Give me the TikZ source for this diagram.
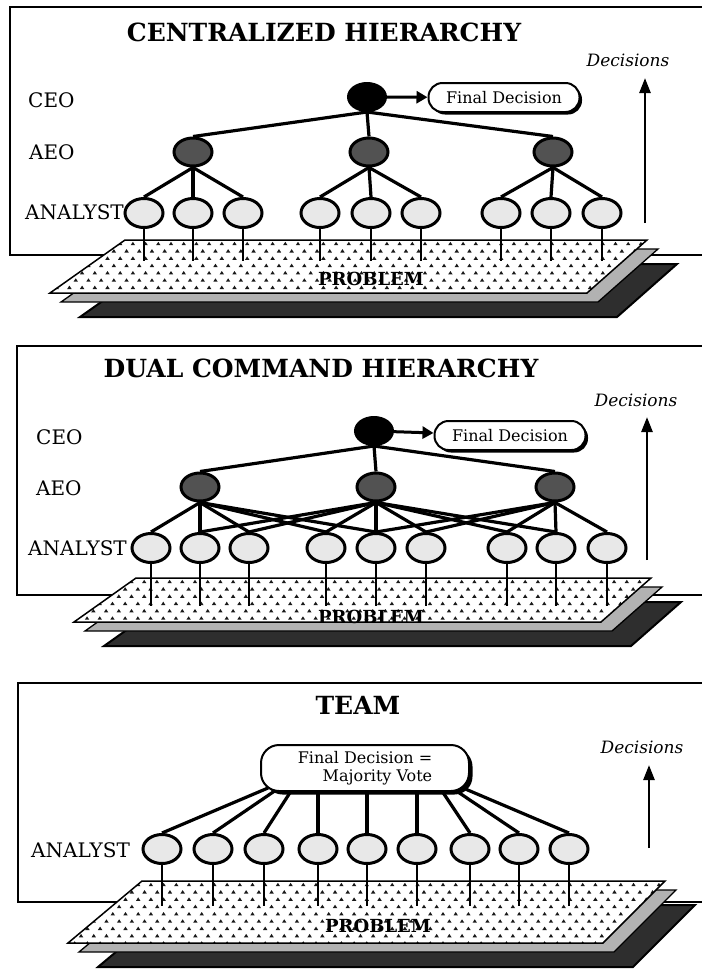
\documentclass[tikz,border=0pt]{standalone}
\usepackage{fontspec}
\setmainfont{DejaVu Serif}
\usetikzlibrary{shapes.geometric,arrows.meta,shadows}
\pgfdeclarelayer{bg}
\pgfsetlayers{bg,main}
\newcommand\probstack[6]{%
  \filldraw[fill=black!82,line width=2pt,shift={(30,24)}] (#1,#2) -- ++(#3,0) -- ++(-#6,#4) -- ++({-(#3)-(#5)+(#6)},0) -- cycle;
  \filldraw[fill=black!30,line width=1.3pt,shift={(11,9)}] (#1,#2) -- ++(#3,0) -- ++(-#6,#4) -- ++({-(#3)-(#5)+(#6)},0) -- cycle;
  \fill[white] (#1,#2) -- ++(#3,0) -- ++(-#6,#4) -- ++({-(#3)-(#5)+(#6)},0) -- cycle;
  \begin{scope}
    \clip (#1,#2) -- ++(#3,0) -- ++(-#6,#4) -- ++({-(#3)-(#5)+(#6)},0) -- cycle;
    \foreach \rr in {0,...,9}{\foreach \cc in {0,...,49}{%
      \fill[black!90] ({#1-#5-6+\cc*12.7+mod(\rr,2)*6.35},{#2+1.8+\rr*7.3}) -- ++(2.2,3.4) -- ++(-4.4,0) -- cycle;}}
  \end{scope}
  \draw[line width=1.5pt] (#1,#2) -- ++(#3,0) -- ++(-#6,#4) -- ++({-(#3)-(#5)+(#6)},0) -- cycle;
}
\begin{document}
\begin{tikzpicture}[x=1pt,y=-1pt,
  frameline/.style={line width=1.4pt},
  ceonode/.style={ellipse,draw,line width=3pt,fill=black,minimum width=37pt,minimum height=27pt,inner sep=0pt},
  aeonode/.style={ellipse,draw,line width=3pt,fill=black!68,minimum width=38pt,minimum height=28pt,inner sep=0pt},
  ananode/.style={ellipse,draw,line width=3pt,fill=black!9,minimum width=38pt,minimum height=29pt,inner sep=0pt},
  treeline/.style={line width=3.2pt},
  stemline/.style={line width=1.1pt},
  lbl/.style={font=\fontsize{20}{22}\selectfont,anchor=west,inner sep=0pt},
  ttl/.style={font=\fontsize{25}{27}\selectfont\bfseries,inner sep=0pt},
  decword/.style={font=\fontsize{17}{19}\selectfont\itshape,inner sep=0pt},
  decarrow/.style={line width=2.5pt,-{Triangle[length=15pt,width=11pt]}},
  finalbox/.style={draw,line width=2pt,fill=white,rounded corners=14pt,minimum width=151pt,minimum height=29pt,font=\fontsize{16}{18}\selectfont,inner sep=0pt,drop shadow={shadow xshift=2.5pt,shadow yshift=-2.5pt,fill=black,opacity=1}},
  probtxt/.style={font=\fontsize{18}{20}\selectfont\bfseries,inner sep=0pt},
]
\useasboundingbox (0,0) rectangle (702,970);

% ================= TOP PANEL =================
\node[ttl] (t1) at (324,32) {CENTRALIZED HIERARCHY};
\node[decword] (dw1) at (628,60) {Decisions};
\node[lbl] (lc1) at (28,100) {CEO};
\node[lbl] (la1) at (29,152) {AEO};
\node[lbl] (ln1) at (25,212) {ANALYST};
\node[ceonode] (c1) at (367,97) {};
\node[finalbox] (f1) at (504,97.5) {Final Decision};
\node[aeonode] (tL) at (193,152) {};
\node[aeonode] (tM) at (369,152) {};
\node[aeonode] (tR) at (553,152) {};
\foreach \i/\x in {1/144,2/193,3/243,4/320,5/371,6/421,7/501,8/551,9/602}
  \node[ananode] (ta\i) at (\x,213) {};
\coordinate (s1) at (0,261);
\coordinate (d1b) at (645,223);
\coordinate (d1t) at (645,78);

% ================= MIDDLE PANEL =================
\node[ttl] (t2) at (321,368) {DUAL COMMAND HIERARCHY};
\node[decword] (dw2) at (636,400) {Decisions};
\node[lbl] (lc2) at (36,437) {CEO};
\node[lbl] (la2) at (36,488) {AEO};
\node[lbl] (ln2) at (28,548) {ANALYST};
\node[ceonode] (c2) at (374,431) {};
\node[finalbox] (f2) at (510,435.5) {Final Decision};
\node[aeonode] (mL) at (200,487) {};
\node[aeonode] (mM) at (376,487) {};
\node[aeonode] (mR) at (555,487) {};
\foreach \i/\x in {1/151,2/200,3/249,4/326,5/376,6/426,7/507,8/556,9/607}
  \node[ananode] (mn\i) at (\x,548) {};
\coordinate (s2) at (0,606);
\coordinate (d2b) at (647,560);
\coordinate (d2t) at (647,417);

% ================= BOTTOM PANEL =================
\node[ttl] (t3) at (358,705) {TEAM};
\node[decword] (dw3) at (642,747) {Decisions};
\node[lbl] (ln3) at (31,850) {ANALYST};
\node[draw,line width=2pt,fill=white,rounded corners=18pt,minimum width=208pt,minimum height=46pt,
  font=\fontsize{16}{18}\selectfont,align=right,inner sep=0pt,
  drop shadow={shadow xshift=3.5pt,shadow yshift=-3.5pt,fill=black,opacity=1}] (f3) at (365,768)
  {Final Decision =\\Majority Vote};
\foreach \i/\x in {1/162,2/213,3/264,4/318,5/367,6/417,7/470,8/519,9/569}
  \node[ananode] (bn\i) at (\x,849) {};
\foreach \i/\x in {1/268,2/279,3/293,4/318,5/367,6/417,7/440,8/452,9/463}
  \coordinate (bt\i) at (\x,788);
\coordinate (s3) at (0,906);
\coordinate (d3b) at (649,848);
\coordinate (d3t) at (649,765);

\begin{pgfonlayer}{bg}
  % frames
  \draw[frameline] (702,7) -- (10,7) -- (10,255) -- (702,255);
  \draw[frameline] (702,346) -- (17,346) -- (17,595) -- (702,595);
  \draw[frameline] (702,683) -- (18,683) -- (18,902) -- (702,902);
  % problem planes
  \probstack{125}{240}{522}{53}{75}{60}
  \probstack{136}{578}{515}{44}{62}{50}
  \probstack{142}{881}{523}{62}{74}{62}
  % stems
  \foreach \i in {1,...,9}{
    \draw[stemline] (ta\i.south) -- (ta\i.south |- s1);
    \draw[stemline] (mn\i.south) -- (mn\i.south |- s2);
    \draw[stemline] (bn\i.south) -- (bn\i.south |- s3);
  }
  % top tree
  \foreach \a in {tL,tM,tR} \draw[treeline] (c1.south) -- (\a.north);
  \foreach \a/\b in {tL/1,tL/2,tL/3,tM/4,tM/5,tM/6,tR/7,tR/8,tR/9}
    \draw[treeline] (\a.south) -- (ta\b.north);
  % middle tree
  \foreach \a in {mL,mM,mR} \draw[treeline] (c2.south) -- (\a.north);
  \foreach \a/\b in {mL/1,mL/2,mL/3,mL/4,mL/5,mM/2,mM/3,mM/4,mM/5,mM/6,mM/7,mM/8,mR/5,mR/6,mR/7,mR/8,mR/9}
    \draw[treeline] (\a.south) -- (mn\b.north);
  % team
  \foreach \i in {1,...,9} \draw[treeline] (bt\i) -- (bn\i.north);
\end{pgfonlayer}

% problem labels
\node[probtxt] (p1) at (371,279) {PROBLEM};
\node[probtxt] (p2) at (371,617) {PROBLEM};
\node[probtxt] (p3) at (378,926) {PROBLEM};

% arrows
\draw[line width=3pt,-{Triangle[length=11pt,width=12pt]}] (c1) -- (f1);
\draw[line width=3pt,-{Triangle[length=11pt,width=12pt]}] (c2) -- (f2);
\draw[decarrow] (d1b) -- (d1t);
\draw[decarrow] (d2b) -- (d2t);
\draw[decarrow] (d3b) -- (d3t);
\end{tikzpicture}
\end{document}
